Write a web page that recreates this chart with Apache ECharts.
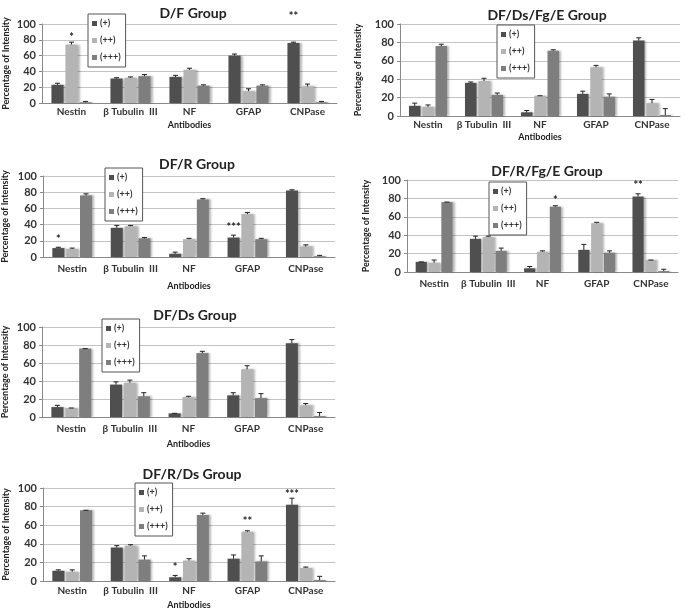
<!DOCTYPE html>
<html>
<head>
<meta charset="utf-8">
<script src="https://cdn.jsdelivr.net/npm/echarts@6/dist/echarts.min.js"></script>
<style>
html,body{margin:0;padding:0;background:#fff;}
#c{width:685px;height:612px;}
</style>
</head>
<body>
<div id="c"></div>
<script>
// ---- data ----
const categories = ['Nestin', 'β Tubulin  III', 'NF', 'GFAP', 'CNPase'];
const seriesNames = ['(+)', '(++)', '(+++)'];
const groupTitles = ['D/F Group', 'DF/Ds/Fg/E Group', 'DF/R Group', 'DF/R/Fg/E Group', 'DF/Ds Group', 'DF/R/Ds Group'];

// values per panel: [(+), (++), (+++)]
const DF_values = [[23, 31, 33, 60, 76], [74, 32, 42, 15, 21], [1, 34, 22, 22, 1]];
const DF_errors = [[2, 1, 2, 2, 1], [3, 1, 2, 3, 3], [1, 2, 1, 1, 1]];
const DF_stars = [[0, 1, '*', 83], [4, 0, '**', 110]];

const DFDsFgE_values = [[11, 36, 4, 24, 82], [10, 38, 22, 53, 14], [76, 23, 71, 21, 1]];
const DFDsFgE_errors = [[3, 1, 2, 3, 3], [2, 3, 0, 2, 4], [2, 2, 1, 3, 7]];
const DFDsFgE_stars = [];

const DFR_values = [[11, 36, 4, 24, 82], [10, 38, 22, 53, 13], [76, 23, 71, 22, 1]];
const DFR_errors = [[1, 3, 2, 3, 1], [1, 1, 1, 2, 2], [2, 1, 1, 1, 1]];
const DFR_stars = [[0, 0, '*', 22], [3, 0, '***', 36]];

const DFRFgE_values = [[11, 36, 4, 24, 82], [10, 38, 22, 53, 13], [76, 23, 71, 21, 1]];
const DFRFgE_errors = [[0, 3, 2, 6, 3], [3, 1, 1, 1, 0], [0, 3, 1, 2, 2]];
const DFRFgE_stars = [[2, 2, '*', 78], [4, 0, '**', 94]];

const DFDs_values = [[11, 36, 4, 24, 82], [10, 38, 22, 53, 13], [76, 23, 71, 21, 1]];
const DFDs_errors = [[2, 3, 0, 3, 4], [0, 3, 1, 4, 2], [0, 4, 2, 5, 4]];
const DFDs_stars = [];

const DFRDs_values = [[11, 36, 4, 24, 82], [10, 38, 22, 53, 14], [76, 23, 71, 21, 1]];
const DFRDs_errors = [[1, 2, 2, 4, 7], [2, 1, 2, 1, 1], [0, 4, 2, 6, 4]];
const DFRDs_stars = [[2, 0, '*', 15], [3, 1, '**', 64], [4, 0, '***', 93]];

const yTicks = [0, 20, 40, 60, 80, 100];

// ---- layout / style ----
const panelValues = [DF_values, DFDsFgE_values, DFR_values, DFRFgE_values, DFDs_values, DFRDs_values];
const panelErrors = [DF_errors, DFDsFgE_errors, DFR_errors, DFRFgE_errors, DFDs_errors, DFRDs_errors];
const panelStars = [DF_stars, DFDsFgE_stars, DFR_stars, DFRFgE_stars, DFDs_stars, DFRDs_stars];

const layout = [
  {left: 42, top: 24, width: 295, height: 79, titleX: 188, titleY: 1, legL: 88, legT: 14, xName: true, xNameGap: 18, yNameGap: 31, labMargin: 4},
  {left: 400, top: 24, width: 280, height: 92, titleX: 542, titleY: 3, legL: 497, legT: 25, xName: true, xNameGap: 17, yNameGap: 37, labMargin: 4},
  {left: 43, top: 176, width: 292, height: 81, titleX: 192, titleY: 152, legL: 105, legT: 168, xName: true, xNameGap: 25, yNameGap: 33, labMargin: 7},
  {left: 407, top: 180, width: 271, height: 92, titleX: 542, titleY: 159, legL: 489, legT: 182, xName: false, xNameGap: 20, yNameGap: 36, labMargin: 7},
  {left: 42, top: 327, width: 293, height: 90, titleX: 190, titleY: 303, legL: 102, legT: 319, xName: true, xNameGap: 23, yNameGap: 32, labMargin: 7},
  {left: 43, top: 488, width: 292, height: 93, titleX: 187, titleY: 462, legL: 135, legT: 483, xName: true, xNameGap: 20, yNameGap: 32, labMargin: 5}
];
const colors = ['#4f4f4f', '#b4b4b4', '#7e7e7e'];
const FONT = 'Lato, "Open Sans", sans-serif';
const CAT_GAP = 0.32, BAR_GAP = 0.15;

const option = {
  animation: false,
  backgroundColor: '#fff',
  title: [], legend: [], grid: [], xAxis: [], yAxis: [], series: []
};

layout.forEach((L, p) => {
  option.title.push({
    text: groupTitles[p], left: L.titleX, top: L.titleY, textAlign: 'center',
    textStyle: {fontFamily: FONT, fontSize: 14, fontWeight: 'bold', color: '#222'}
  });
  option.legend.push({
    data: seriesNames, orient: 'vertical', left: L.legL, top: L.legT,
    itemWidth: 5, itemHeight: 5, itemGap: 8, padding: [5, 5, 5, 4],
    borderColor: '#555', borderWidth: 1, backgroundColor: '#fff',
    icon: 'rect', selectedMode: false,
    textStyle: {fontFamily: FONT, fontSize: 9, fontWeight: 'bold', color: '#333', padding: [0, 0, 0, -2]}
  });
  option.grid.push({left: L.left, top: L.top, width: L.width, height: L.height});
  option.xAxis.push({
    type: 'category', gridIndex: p, data: categories,
    name: L.xName ? 'Antibodies' : '', nameLocation: 'middle', nameGap: L.xNameGap,
    nameTextStyle: {fontFamily: FONT, fontSize: 9, fontWeight: 'bold', color: '#222'},
    axisLine: {lineStyle: {color: '#8a8a8a'}},
    axisTick: {show: false},
    axisLabel: {interval: 0, hideOverlap: false, fontFamily: FONT, fontSize: 10, fontWeight: 'bold', color: '#333', margin: L.labMargin}
  });
  option.yAxis.push({
    type: 'value', gridIndex: p, min: yTicks[0], max: yTicks[yTicks.length - 1], interval: yTicks[1] - yTicks[0],
    name: 'Percentage of Intensity', nameLocation: 'middle', nameGap: L.yNameGap, nameRotate: 90,
    nameTextStyle: {fontFamily: FONT, fontSize: 9, fontWeight: 'bold', color: '#222'},
    axisLine: {show: true, lineStyle: {color: '#8a8a8a'}},
    axisTick: {show: true, length: 3, lineStyle: {color: '#8a8a8a'}},
    splitLine: {lineStyle: {color: '#c4c4c4'}},
    axisLabel: {fontFamily: FONT, fontSize: 11, fontWeight: 'bold', color: '#333', margin: 6}
  });
  panelValues[p].forEach((vals, s) => {
    option.series.push({
      type: 'bar', name: seriesNames[s], xAxisIndex: p, yAxisIndex: p,
      data: vals, barCategoryGap: (CAT_GAP * 100) + '%', barGap: (BAR_GAP * 100) + '%',
      itemStyle: {color: colors[s], shadowColor: 'rgba(0,0,0,0.28)', shadowOffsetX: 2, shadowBlur: 2}
    });
  });
  const errData = [];
  panelValues[p].forEach((vals, s) => vals.forEach((v, c) => errData.push([c, s, v, panelErrors[p][s][c]])));
  const stars = panelStars[p];
  option.series.push({
    type: 'custom', xAxisIndex: p, yAxisIndex: p, data: errData, z: 5,
    renderItem: function (params, api) {
      const c = api.value(0), s = api.value(1), v = api.value(2), e = api.value(3);
      const bandW = api.size([1, 0])[0];
      const remained = bandW * (1 - CAT_GAP);
      const w = remained / (3 + 2 * BAR_GAP);
      const total = 3 * w + 2 * w * BAR_GAP;
      const cx = api.coord([c, 0])[0] - total / 2 + s * w * (1 + BAR_GAP) + w / 2;
      const y0 = api.coord([c, v])[1];
      const y1 = api.coord([c, v + e])[1];
      const children = [];
      children.push({type: 'line', shape: {x1: cx, y1: y0, x2: cx, y2: y1}, style: {stroke: '#222', lineWidth: 1}});
      children.push({type: 'line', shape: {x1: cx - 2.5, y1: y1, x2: cx + 2.5, y2: y1}, style: {stroke: '#222', lineWidth: 1}});
      stars.forEach(st => {
        if (st[0] === c && st[1] === s) {
          const ys = api.coord([c, st[3]])[1];
          children.push({type: 'text', style: {x: cx, y: ys, text: st[2], textAlign: 'center', textVerticalAlign: 'middle',
            fontFamily: FONT, fontSize: 11, fontWeight: 'bold', fill: '#222'}});
        }
      });
      return {type: 'group', children: children};
    }
  });
});

const chart = echarts.init(document.getElementById('c'), null, {renderer: 'canvas'});
chart.setOption(option);
</script>
</body>
</html>
